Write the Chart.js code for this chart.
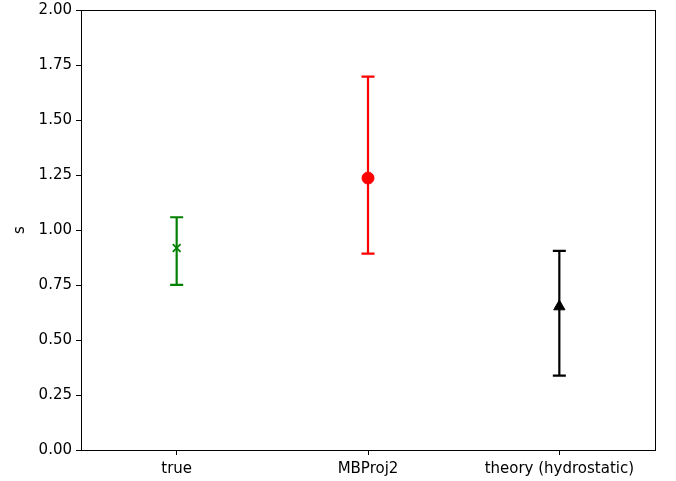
<!DOCTYPE html>
<html>
<head>
<meta charset="utf-8">
<script src="https://cdn.jsdelivr.net/npm/chart.js@4/dist/chart.umd.min.js"></script>
<style>
  html, body { margin: 0; padding: 0; background: #fff; }
  #wrap { width: 676px; height: 481px; }
</style>
</head>
<body>
<div id="wrap"><canvas id="sChart" width="676" height="481"></canvas></div>
<script>
const categories = ['true', 'MBProj2', 'theory (hydrostatic)']
const values = [0.918, 1.236, 0.652]
const upper = [1.058, 1.697, 0.905]
const lower = [0.751, 0.893, 0.338]
const colors = ['#008000', '#ff0000', '#000000']
const markers = ['crossRot', 'circle', 'triangle']
const yTicks = [0, 0.25, 0.5, 0.75, 1, 1.25, 1.5, 1.75, 2]

// vertical error bars with caps, drawn under the markers
const errorBars = {
  id: 'errorBars',
  beforeDatasetsDraw(chart) {
    const { ctx, scales: { x, y } } = chart
    ctx.save()
    ctx.lineWidth = 2.2
    values.forEach((v, i) => {
      const px = x.getPixelForValue(i)
      const top = y.getPixelForValue(upper[i])
      const bot = y.getPixelForValue(lower[i])
      ctx.strokeStyle = colors[i]
      ctx.beginPath()
      ctx.moveTo(px, top); ctx.lineTo(px, bot)
      ctx.moveTo(px - 6.5, top); ctx.lineTo(px + 6.5, top)
      ctx.moveTo(px - 6.5, bot); ctx.lineTo(px + 6.5, bot)
      ctx.stroke()
    })
    ctx.restore()
  },
  afterDraw(chart) {
    const { ctx, chartArea: a } = chart
    ctx.save()
    ctx.strokeStyle = '#000'
    ctx.lineWidth = 1
    ctx.strokeRect(Math.round(a.left) + 0.5, Math.round(a.top) + 0.5,
      Math.round(a.right - a.left), Math.round(a.bottom - a.top))
    ctx.restore()
  }
}

const font = { family: 'DejaVu Sans', size: 15 }

new Chart(document.getElementById('sChart'), {
  type: 'scatter',
  data: {
    datasets: [{
      data: values.map((v, i) => ({ x: i, y: v })),
      pointStyle: markers,
      pointRadius: [5.5, 6, 6.5],
      pointBorderWidth: [1.8, 1, 1],
      pointBorderColor: colors,
      pointBackgroundColor: colors
    }]
  },
  plugins: [errorBars],
  options: {
    responsive: false,
    animation: false,
    layout: { padding: { top: 10, right: 21, left: 0, bottom: 0 } },
    plugins: { legend: { display: false }, tooltip: { enabled: false } },
    scales: {
      x: {
        type: 'linear',
        min: -0.5,
        max: 2.5,
        afterBuildTicks: axis => { axis.ticks = [0, 1, 2].map(v => ({ value: v })) },
        afterFit: axis => { axis.height = 31; axis.paddingLeft = 0; axis.paddingRight = 0 },
        grid: { drawOnChartArea: false, tickLength: 5, tickColor: '#000' },
        border: { color: '#000' },
        ticks: {
          color: '#000', font, padding: 5, maxRotation: 0,
          callback: v => categories[v]
        }
      },
      y: {
        min: 0,
        max: 2,
        afterBuildTicks: axis => { axis.ticks = yTicks.map(v => ({ value: v })) },
        afterFit: axis => { axis.width = 81; axis.paddingTop = 0; axis.paddingBottom = 0 },
        grid: { drawOnChartArea: false, tickLength: 5, tickColor: '#000' },
        border: { color: '#000' },
        title: { display: true, text: 's', color: '#000', font, padding: 11 },
        ticks: {
          color: '#000', font, padding: 4,
          callback: v => v.toFixed(2)
        }
      }
    }
  }
})
</script>
</body>
</html>
